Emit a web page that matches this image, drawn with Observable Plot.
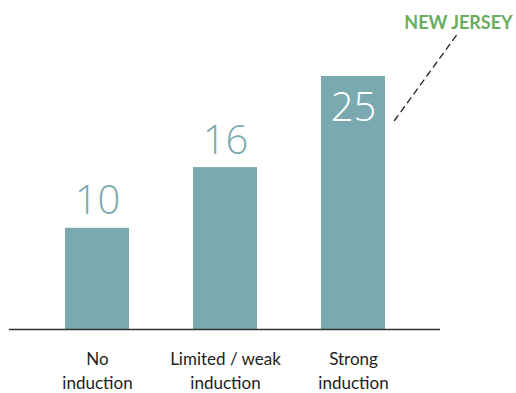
<!DOCTYPE html>
<html><head><meta charset="utf-8">
<script src="https://cdn.jsdelivr.net/npm/d3@7"></script>
<script src="https://cdn.jsdelivr.net/npm/@observablehq/plot@0.6"></script>
<style>body{margin:0;background:#fff}</style>
</head><body><div id="chart"></div>
<script>
const categories = ["No\ninduction", "Limited / weak\ninduction", "Strong\ninduction"];
const values = [10, 16, 25];
const annotationLabel = "NEW JERSEY";
const annotationCategory = "Strong\ninduction";

const data = categories.map((c, i) => ({category: c, value: values[i]}));
const maxV = d3.max(values);
const annotation = [{category: annotationCategory, value: values[categories.indexOf(annotationCategory)], label: annotationLabel}];
const lineShape = {draw(context, l) { context.moveTo(0, 0); context.lineTo(0, -l); }};
const teal = "#7aa9af";
const numFont = "'Open Sans', Lato, sans-serif";

const plot = Plot.plot({
  width: 516, height: 393,
  marginLeft: 9, marginRight: 76, marginTop: 76, marginBottom: 64,
  style: {fontFamily: "Lato, 'Open Sans', sans-serif", background: "#fff"},
  x: {domain: categories, paddingInner: 0.5, paddingOuter: 0.43, label: null},
  y: {domain: [0, 25], axis: null},
  marks: [
    Plot.barY(data, {x: "category", y: "value", fill: teal}),
    Plot.ruleY([0], {stroke: "#333", strokeWidth: 1.5}),
    Plot.axisX({tickSize: 0, tickPadding: 19, fontSize: 17, lineHeight: 1.4, color: "#222", label: null}),
    Plot.text(data.filter(d => d.value < maxV), {x: "category", y: "value", text: d => String(d.value), lineAnchor: "bottom", dy: -14, fontSize: 40, fontWeight: 300, fontFamily: numFont, fill: teal}),
    Plot.text(data.filter(d => d.value === maxV), {x: "category", y: "value", text: d => String(d.value), lineAnchor: "bottom", dy: 44, fontSize: 40, fontWeight: 300, fontFamily: numFont, fill: "#fff"}),
    Plot.vector(annotation, {x: "category", y: "value", dx: 41, dy: 44, anchor: "start", length: 105, rotate: 36, shape: lineShape, stroke: "#222", strokeWidth: 1.3, strokeDasharray: "6,5"}),
    Plot.text(annotation, {x: "category", y: "value", text: "label", dx: 105, dy: -48, lineAnchor: "bottom", fontSize: 18, fontWeight: "bold", fill: "#6aad5c"})
  ]
});
document.getElementById("chart").append(plot);
</script></body></html>
